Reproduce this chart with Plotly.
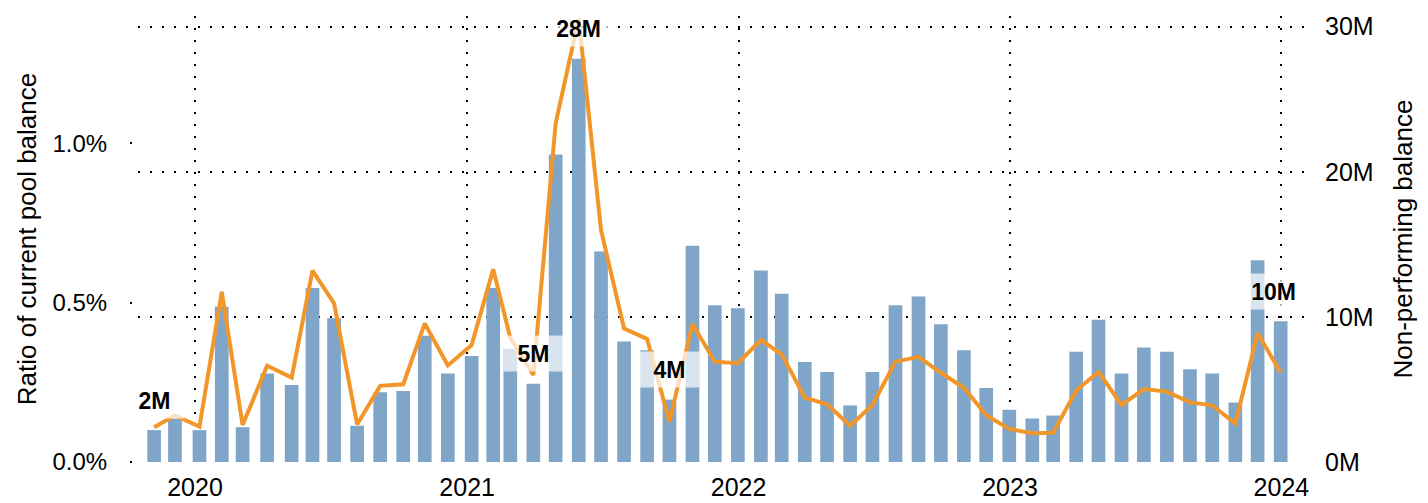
import plotly.graph_objects as go

# Reporting dates (one bar / point per report)
dates = [
    "2019-11-07", "2019-12-05", "2020-01-07", "2020-02-06", "2020-03-05", "2020-04-07",
    "2020-05-10", "2020-06-07", "2020-07-06", "2020-08-06", "2020-09-06", "2020-10-07",
    "2020-11-05", "2020-12-06", "2021-01-07", "2021-02-05", "2021-02-28", "2021-03-31",
    "2021-04-30", "2021-05-31", "2021-06-30", "2021-07-31", "2021-08-31", "2021-09-30",
    "2021-10-31", "2021-11-30", "2021-12-31", "2022-01-31", "2022-02-28", "2022-03-31",
    "2022-04-30", "2022-05-31", "2022-06-30", "2022-07-31", "2022-08-31", "2022-09-30",
    "2022-10-31", "2022-11-30", "2022-12-31", "2023-01-31", "2023-02-28", "2023-03-31",
    "2023-04-30", "2023-05-31", "2023-06-30", "2023-07-31", "2023-08-31", "2023-09-30",
    "2023-10-31", "2023-11-30", "2023-12-31",
]

# Non-performing balance, millions (bars, right axis)
npb_m = [
    2.2, 3.0, 2.2, 10.7, 2.4, 6.1, 5.3, 12.0, 9.9, 2.5, 4.8, 4.9,
    8.7, 6.1, 7.3, 12.0, 7.8, 5.4, 21.2, 27.8, 14.5, 8.3, 7.7, 4.3,
    14.9, 10.8, 10.6, 13.2, 11.6, 6.9, 6.2, 3.9, 6.2, 10.8, 11.4, 9.5,
    7.7, 5.1, 3.6, 3.0, 3.2, 7.6, 9.8, 6.1, 7.9, 7.6, 6.4, 6.1,
    4.1, 13.9, 9.7,
]

# Ratio of current pool balance, percent (line, left axis)
ratio_pct = [
    0.109, 0.146, 0.111, 0.534, 0.116, 0.302, 0.265, 0.601, 0.498, 0.118, 0.239, 0.244,
    0.435, 0.303, 0.367, 0.605, 0.389, 0.273, 1.063, 1.392, 0.728, 0.419, 0.386, 0.126,
    0.433, 0.315, 0.310, 0.383, 0.338, 0.202, 0.181, 0.114, 0.179, 0.315, 0.330, 0.280,
    0.233, 0.147, 0.104, 0.090, 0.092, 0.224, 0.283, 0.179, 0.229, 0.221, 0.187, 0.178,
    0.121, 0.404, 0.281,
]

# Points that carry a value label
label_idx = [0, 17, 19, 23, 50]

BAR_COLOR = "#7FA6C9"
LINE_COLOR = "#F2962A"
FONT = "Liberation Sans, Arial, Helvetica, sans-serif"
GRID = dict(showgrid=True, gridcolor="black", gridwidth=2, griddash="2px,10px")

fig = go.Figure()
fig.add_trace(go.Bar(x=dates, y=npb_m, marker=dict(color=BAR_COLOR, line=dict(width=0)),
                     xaxis="x", yaxis="y", name="Non-performing balance"))
fig.add_trace(go.Scatter(x=dates, y=ratio_pct, mode="lines",
                         line=dict(color=LINE_COLOR, width=4),
                         xaxis="x", yaxis="y2", name="Ratio"))

for i in label_idx:
    fig.add_annotation(
        x=dates[i], y=npb_m[i], xref="x", yref="y",
        text=f"<b>{round(npb_m[i])}M</b>", showarrow=False,
        xanchor="center", yanchor="middle", yshift=30,
        xshift=-7 if i == len(dates) - 1 else 0,
        bgcolor="rgba(255,255,255,0.7)", width=59, height=35, borderpad=0,
        font=dict(family=FONT, size=23, color="black"),
    )

fig.update_layout(
    width=1428, height=503,
    margin=dict(l=132, r=123, t=16, b=41, autoexpand=False),
    paper_bgcolor="white", plot_bgcolor="white",
    showlegend=False,
    font=dict(family=FONT, size=25, color="black"),
    xaxis=dict(
        type="date", domain=[6 / 1173, 1], automargin=False,
        range=["2019-10-16 08:00", "2024-02-01 17:00"],
        dtick="M12", tick0="2020-01-01", tickformat="%Y",
        ticks="", showline=False, zeroline=False,
        tickfont=dict(size=25), ticklabelstandoff=8,
        **GRID,
    ),
    yaxis=dict(
        side="right", anchor="x", automargin=False,
        range=[0, 30.74], dtick=10, ticksuffix="M",
        ticks="", showline=False, zeroline=False,
        tickfont=dict(size=25), ticklabelstandoff=19,
        title=dict(text="Non-performing balance", font=dict(size=26), standoff=21),
        **GRID,
    ),
    yaxis2=dict(
        overlaying="y", side="left", anchor="free", position=0, automargin=False,
        range=[0, 1.4], dtick=0.5, tickformat=".1f", ticksuffix="%",
        showgrid=False, zeroline=False, showline=False,
        ticks="outside", ticklen=2, tickwidth=2, tickcolor="black",
        tickfont=dict(size=24), ticklabelstandoff=18,
        title=dict(text="Ratio of current pool balance", font=dict(size=26), standoff=7),
    ),
)

fig.write_html(
    "out.html",
    config={"displayModeBar": False},
    post_script="document.body.style.margin='0px';document.body.style.overflow='hidden';",
)
